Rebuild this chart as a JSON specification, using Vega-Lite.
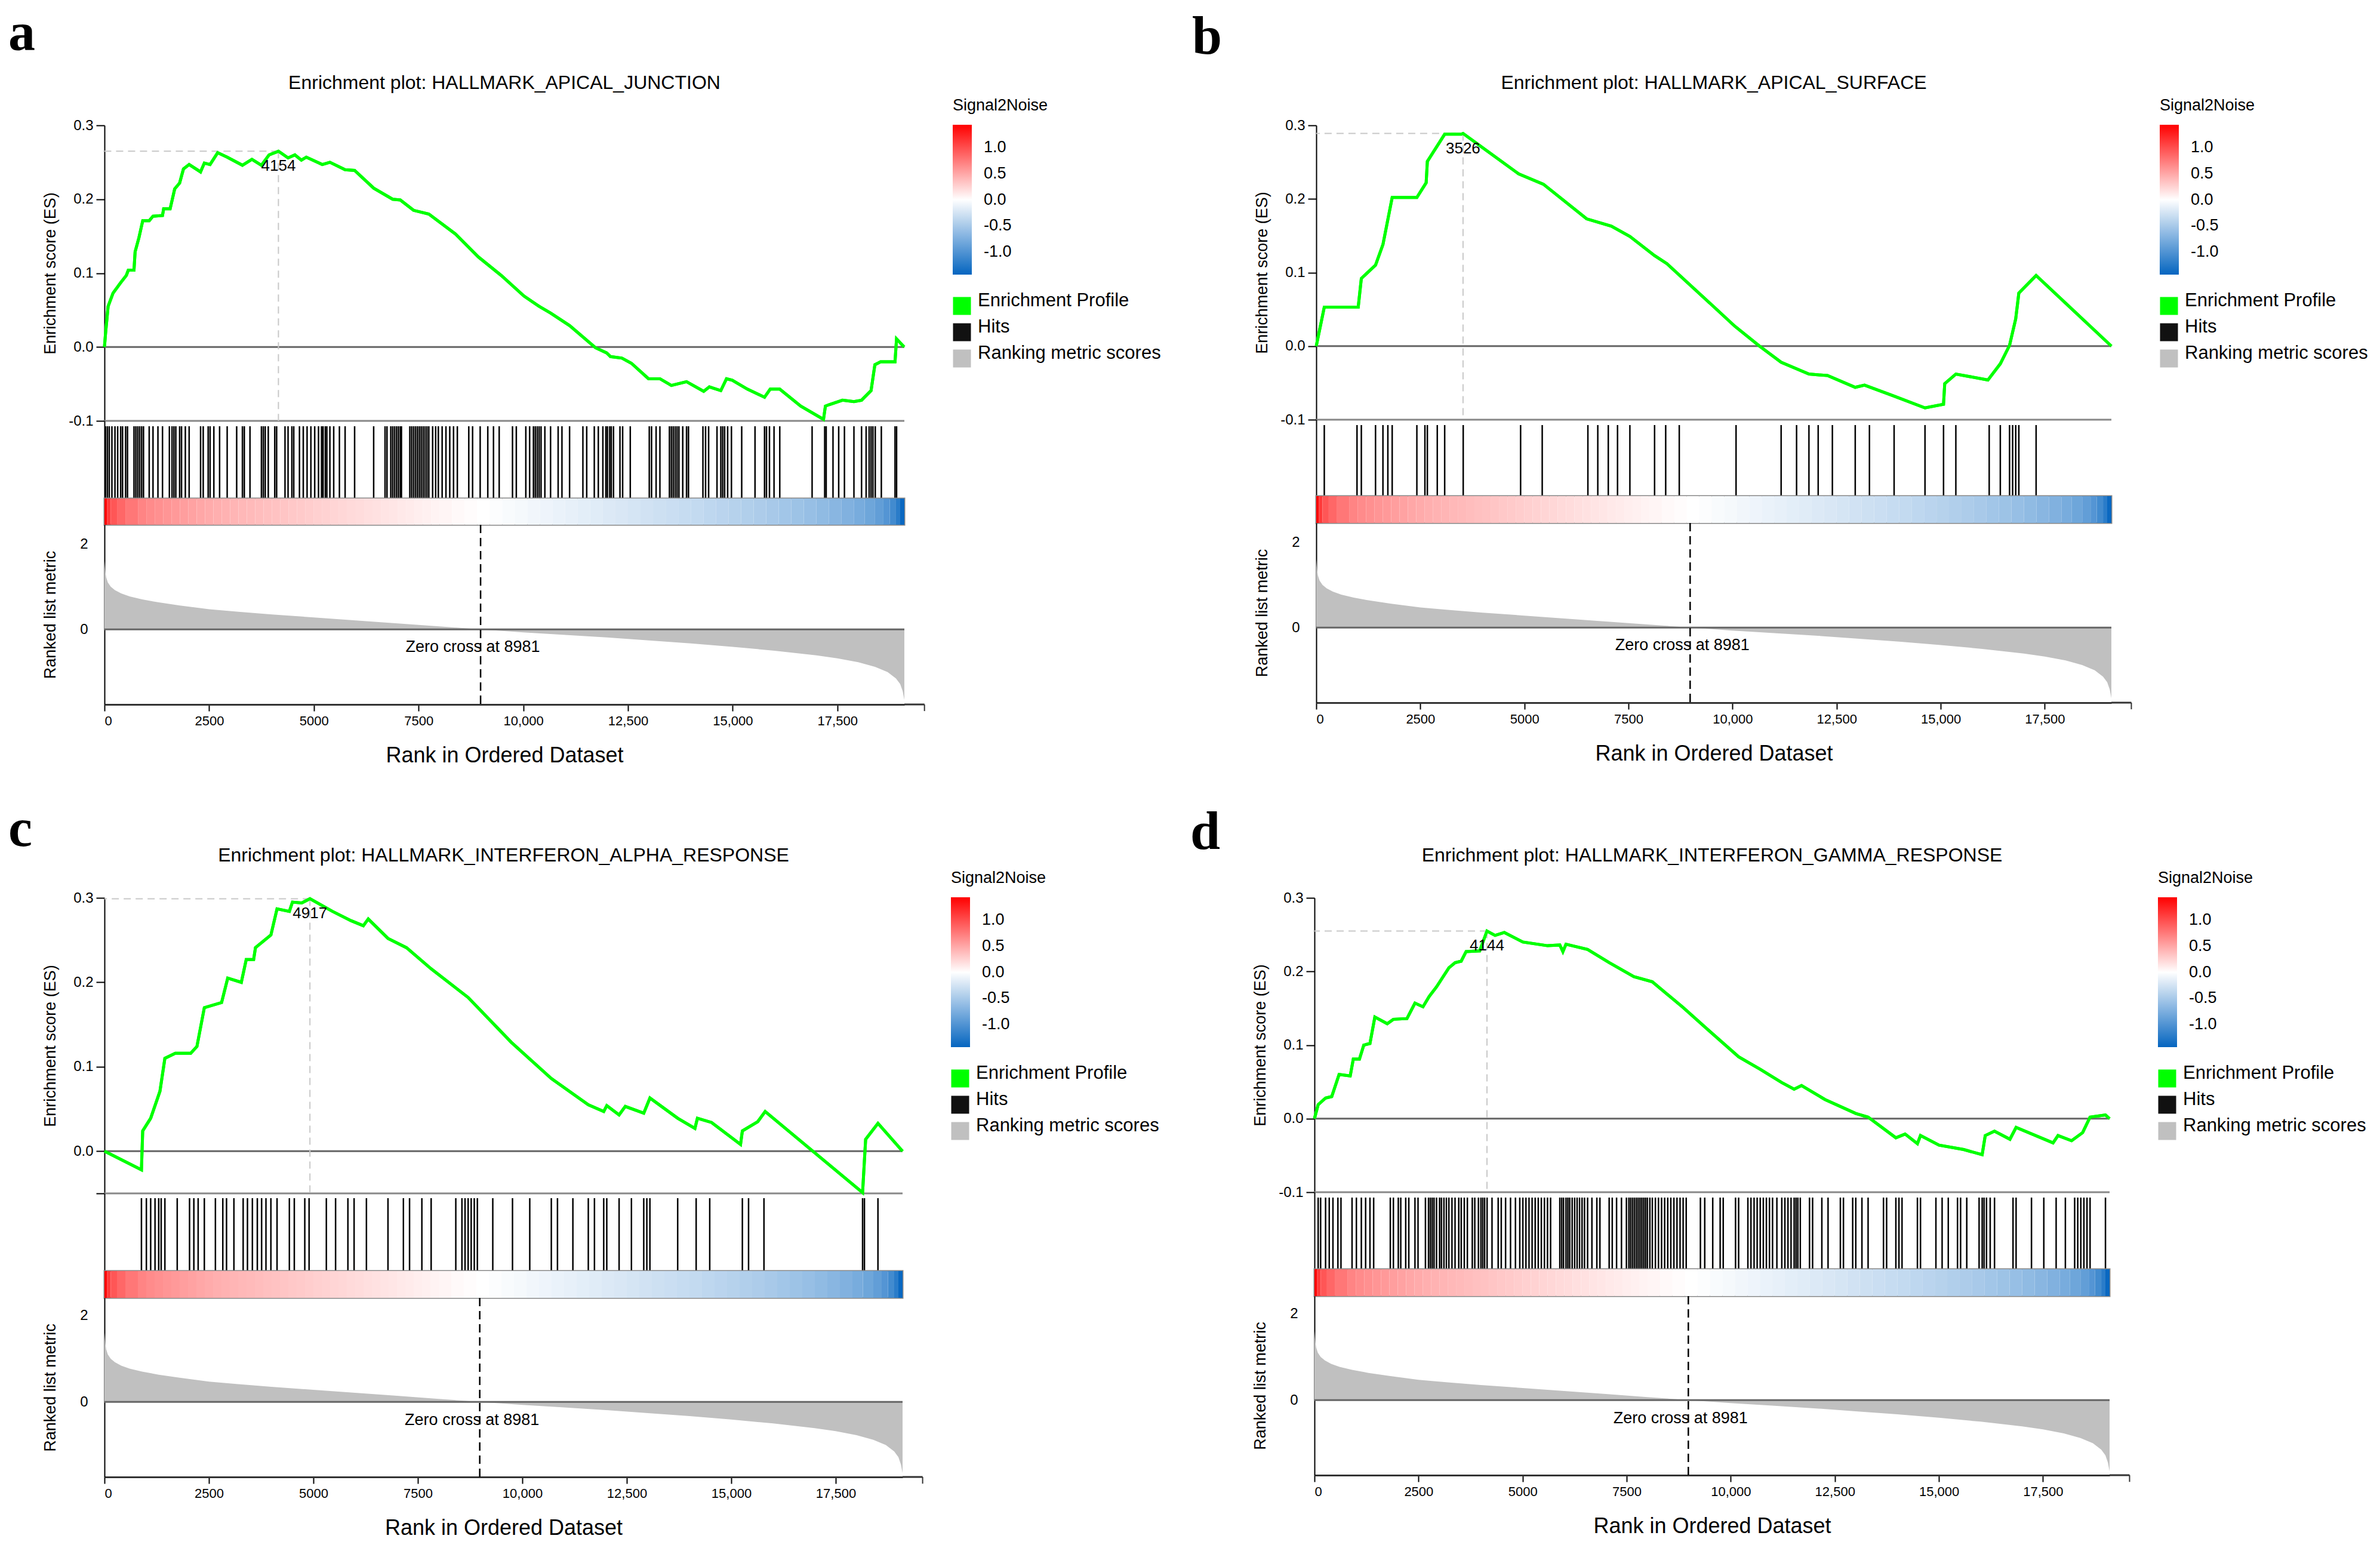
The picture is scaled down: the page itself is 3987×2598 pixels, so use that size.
{
"$schema": "https://vega.github.io/schema/vega-lite/v6.json",
"background": "white",
"padding": {"left": 14, "top": 12, "right": 5, "bottom": 5},
"spacing": 62,
"resolve": {"scale": {"color": "independent", "fill": "independent"}, "legend": {"color": "independent", "fill": "independent"}},
"datasets": {
"series": [{"series": "Enrichment Profile"}, {"series": "Hits"}, {"series": "Ranking metric scores"}],
"zc": [{"rank": 8981, "label": "Zero cross at 8981"}],
"peakA": [{"rank": 4154, "es": 0.265}],
"peakB": [{"rank": 3526, "es": 0.289}],
"peakC": [{"rank": 4917, "es": 0.299}],
"peakD": [{"rank": 4144, "es": 0.255}],
"metric": [{"rank":0,"metric":1.6},{"rank":15,"metric":1.4},{"rank":40,"metric":1.22},{"rank":80,"metric":1.1},{"rank":150,"metric":1.0},{"rank":250,"metric":0.92},{"rank":400,"metric":0.84},{"rank":600,"metric":0.77},{"rank":900,"metric":0.7},{"rank":1300,"metric":0.63},{"rank":1800,"metric":0.56},{"rank":2500,"metric":0.47},{"rank":3200,"metric":0.41},{"rank":4000,"metric":0.35},{"rank":5000,"metric":0.28},{"rank":6000,"metric":0.21},{"rank":7000,"metric":0.14},{"rank":8000,"metric":0.07},{"rank":8981,"metric":0},{"rank":10000,"metric":-0.07},{"rank":11000,"metric":-0.13},{"rank":12000,"metric":-0.19},{"rank":13000,"metric":-0.26},{"rank":14000,"metric":-0.33},{"rank":15000,"metric":-0.41},{"rank":16000,"metric":-0.5},{"rank":17000,"metric":-0.61},{"rank":17500,"metric":-0.68},{"rank":18000,"metric":-0.77},{"rank":18400,"metric":-0.88},{"rank":18700,"metric":-1.0},{"rank":18900,"metric":-1.15},{"rank":19000,"metric":-1.28},{"rank":19060,"metric":-1.45},{"rank":19100,"metric":-1.65}],
"bar": [{"r0":0,"r1":60,"s2n":1.45},{"r0":60,"r1":150,"s2n":1.1},{"r0":150,"r1":300,"s2n":0.95},{"r0":300,"r1":500,"s2n":0.85},{"r0":500,"r1":800,"s2n":0.76},{"r0":800,"r1":1000,"s2n":0.69},{"r0":1000,"r1":1200,"s2n":0.65},{"r0":1200,"r1":1400,"s2n":0.62},{"r0":1400,"r1":1600,"s2n":0.595},{"r0":1600,"r1":1800,"s2n":0.57},{"r0":1800,"r1":2000,"s2n":0.545},{"r0":2000,"r1":2200,"s2n":0.52},{"r0":2200,"r1":2400,"s2n":0.495},{"r0":2400,"r1":2600,"s2n":0.47},{"r0":2600,"r1":2800,"s2n":0.45},{"r0":2800,"r1":3000,"s2n":0.43},{"r0":3000,"r1":3200,"s2n":0.415},{"r0":3200,"r1":3400,"s2n":0.4},{"r0":3400,"r1":3600,"s2n":0.385},{"r0":3600,"r1":3800,"s2n":0.37},{"r0":3800,"r1":4000,"s2n":0.355},{"r0":4000,"r1":4200,"s2n":0.34},{"r0":4200,"r1":4400,"s2n":0.325},{"r0":4400,"r1":4600,"s2n":0.31},{"r0":4600,"r1":4800,"s2n":0.295},{"r0":4800,"r1":5000,"s2n":0.28},{"r0":5000,"r1":5200,"s2n":0.265},{"r0":5200,"r1":5400,"s2n":0.25},{"r0":5400,"r1":5600,"s2n":0.237},{"r0":5600,"r1":5800,"s2n":0.224},{"r0":5800,"r1":6000,"s2n":0.21},{"r0":6000,"r1":6200,"s2n":0.196},{"r0":6200,"r1":6400,"s2n":0.182},{"r0":6400,"r1":6600,"s2n":0.168},{"r0":6600,"r1":6800,"s2n":0.154},{"r0":6800,"r1":7000,"s2n":0.14},{"r0":7000,"r1":7200,"s2n":0.126},{"r0":7200,"r1":7400,"s2n":0.112},{"r0":7400,"r1":7600,"s2n":0.098},{"r0":7600,"r1":7800,"s2n":0.084},{"r0":7800,"r1":8000,"s2n":0.07},{"r0":8000,"r1":8300,"s2n":0.055},{"r0":8300,"r1":8600,"s2n":0.035},{"r0":8600,"r1":8900,"s2n":0.015},{"r0":8900,"r1":9200,"s2n":0.0},{"r0":9200,"r1":9500,"s2n":-0.02},{"r0":9500,"r1":9800,"s2n":-0.04},{"r0":9800,"r1":10100,"s2n":-0.06},{"r0":10100,"r1":10400,"s2n":-0.08},{"r0":10400,"r1":10700,"s2n":-0.1},{"r0":10700,"r1":11000,"s2n":-0.12},{"r0":11000,"r1":11300,"s2n":-0.14},{"r0":11300,"r1":11600,"s2n":-0.16},{"r0":11600,"r1":11900,"s2n":-0.18},{"r0":11900,"r1":12200,"s2n":-0.2},{"r0":12200,"r1":12500,"s2n":-0.22},{"r0":12500,"r1":12800,"s2n":-0.24},{"r0":12800,"r1":13100,"s2n":-0.265},{"r0":13100,"r1":13400,"s2n":-0.285},{"r0":13400,"r1":13700,"s2n":-0.305},{"r0":13700,"r1":14000,"s2n":-0.325},{"r0":14000,"r1":14300,"s2n":-0.345},{"r0":14300,"r1":14600,"s2n":-0.37},{"r0":14600,"r1":14900,"s2n":-0.395},{"r0":14900,"r1":15200,"s2n":-0.42},{"r0":15200,"r1":15500,"s2n":-0.445},{"r0":15500,"r1":15800,"s2n":-0.47},{"r0":15800,"r1":16100,"s2n":-0.5},{"r0":16100,"r1":16400,"s2n":-0.53},{"r0":16400,"r1":16700,"s2n":-0.56},{"r0":16700,"r1":17000,"s2n":-0.595},{"r0":17000,"r1":17300,"s2n":-0.635},{"r0":17300,"r1":17600,"s2n":-0.675},{"r0":17600,"r1":17900,"s2n":-0.72},{"r0":17900,"r1":18150,"s2n":-0.77},{"r0":18150,"r1":18400,"s2n":-0.83},{"r0":18400,"r1":18600,"s2n":-0.9},{"r0":18600,"r1":18750,"s2n":-0.98},{"r0":18750,"r1":18900,"s2n":-1.08},{"r0":18900,"r1":19000,"s2n":-1.22},{"r0":19000,"r1":19100,"s2n":-1.4}],
"esA": [{"rank":0,"es":0},{"rank":25,"es":0.018},{"rank":87,"es":0.055},{"rank":205,"es":0.073},{"rank":387,"es":0.087},{"rank":523,"es":0.097},{"rank":569,"es":0.104},{"rank":705,"es":0.104},{"rank":732,"es":0.129},{"rank":823,"es":0.148},{"rank":914,"es":0.171},{"rank":1068,"es":0.171},{"rank":1159,"es":0.177},{"rank":1386,"es":0.178},{"rank":1413,"es":0.187},{"rank":1568,"es":0.187},{"rank":1677,"es":0.214},{"rank":1795,"es":0.222},{"rank":1886,"es":0.241},{"rank":2022,"es":0.247},{"rank":2294,"es":0.237},{"rank":2385,"es":0.249},{"rank":2521,"es":0.247},{"rank":2703,"es":0.263},{"rank":2930,"es":0.257},{"rank":3294,"es":0.246},{"rank":3521,"es":0.254},{"rank":3748,"es":0.246},{"rank":3930,"es":0.26},{"rank":4154,"es":0.265},{"rank":4384,"es":0.256},{"rank":4547,"es":0.26},{"rank":4702,"es":0.253},{"rank":4820,"es":0.257},{"rank":5201,"es":0.247},{"rank":5383,"es":0.25},{"rank":5746,"es":0.24},{"rank":5973,"es":0.239},{"rank":6428,"es":0.215},{"rank":6882,"es":0.2},{"rank":7064,"es":0.199},{"rank":7381,"es":0.185},{"rank":7745,"es":0.18},{"rank":8381,"es":0.153},{"rank":8926,"es":0.122},{"rank":9471,"es":0.097},{"rank":10016,"es":0.069},{"rank":10379,"es":0.055},{"rank":10652,"es":0.046},{"rank":11106,"es":0.029},{"rank":11724,"es":-0.001},{"rank":11992,"es":-0.008},{"rank":12082,"es":-0.013},{"rank":12355,"es":-0.015},{"rank":12582,"es":-0.022},{"rank":12991,"es":-0.043},{"rank":13263,"es":-0.043},{"rank":13536,"es":-0.052},{"rank":13899,"es":-0.047},{"rank":14308,"es":-0.06},{"rank":14444,"es":-0.054},{"rank":14717,"es":-0.059},{"rank":14853,"es":-0.043},{"rank":14989,"es":-0.045},{"rank":15352,"es":-0.057},{"rank":15761,"es":-0.068},{"rank":15897,"es":-0.057},{"rank":16124,"es":-0.057},{"rank":16624,"es":-0.08},{"rank":17169,"es":-0.098},{"rank":17215,"es":-0.08},{"rank":17306,"es":-0.078},{"rank":17623,"es":-0.072},{"rank":17896,"es":-0.074},{"rank":18078,"es":-0.072},{"rank":18305,"es":-0.059},{"rank":18396,"es":-0.024},{"rank":18532,"es":-0.02},{"rank":18877,"es":-0.02},{"rank":18913,"es":0.011},{"rank":19095,"es":0.0}],
"esB": [{"rank":0,"es":0},{"rank":193,"es":0.053},{"rank":1008,"es":0.053},{"rank":1083,"es":0.092},{"rank":1424,"es":0.11},{"rank":1602,"es":0.138},{"rank":1824,"es":0.202},{"rank":2417,"es":0.202},{"rank":2640,"es":0.222},{"rank":2669,"es":0.251},{"rank":3085,"es":0.288},{"rank":3485,"es":0.288},{"rank":3526,"es":0.289},{"rank":4864,"es":0.234},{"rank":5457,"es":0.22},{"rank":6495,"es":0.173},{"rank":7089,"es":0.163},{"rank":7534,"es":0.149},{"rank":8127,"es":0.123},{"rank":8424,"es":0.112},{"rank":9462,"es":0.058},{"rank":10055,"es":0.027},{"rank":10648,"es":0.0},{"rank":11167,"es":-0.022},{"rank":11835,"es":-0.038},{"rank":12280,"es":-0.04},{"rank":12947,"es":-0.056},{"rank":13170,"es":-0.053},{"rank":13837,"es":-0.067},{"rank":14623,"es":-0.084},{"rank":15068,"es":-0.079},{"rank":15097,"es":-0.051},{"rank":15364,"es":-0.038},{"rank":16135,"es":-0.046},{"rank":16432,"es":-0.024},{"rank":16654,"es":0.001},{"rank":16802,"es":0.037},{"rank":16877,"es":0.072},{"rank":17292,"es":0.096},{"rank":19100,"es":0.0}],
"esC": [{"rank":0,"es":0},{"rank":885,"es":-0.022},{"rank":915,"es":0.024},{"rank":1106,"es":0.039},{"rank":1328,"es":0.071},{"rank":1446,"es":0.11},{"rank":1696,"es":0.116},{"rank":2065,"es":0.116},{"rank":2213,"es":0.124},{"rank":2390,"es":0.17},{"rank":2803,"es":0.176},{"rank":2950,"es":0.205},{"rank":3275,"es":0.2},{"rank":3393,"es":0.227},{"rank":3570,"es":0.227},{"rank":3614,"es":0.241},{"rank":3983,"es":0.256},{"rank":4130,"es":0.287},{"rank":4425,"es":0.284},{"rank":4499,"es":0.295},{"rank":4720,"es":0.294},{"rank":4917,"es":0.299},{"rank":5458,"es":0.284},{"rank":5900,"es":0.273},{"rank":6195,"es":0.267},{"rank":6313,"es":0.275},{"rank":6785,"es":0.252},{"rank":7228,"es":0.241},{"rank":7818,"es":0.216},{"rank":8703,"es":0.182},{"rank":9735,"es":0.129},{"rank":10694,"es":0.086},{"rank":11579,"es":0.055},{"rank":11948,"es":0.047},{"rank":12021,"es":0.054},{"rank":12316,"es":0.043},{"rank":12464,"es":0.053},{"rank":12906,"es":0.045},{"rank":13054,"es":0.063},{"rank":13718,"es":0.039},{"rank":14131,"es":0.027},{"rank":14190,"es":0.039},{"rank":14529,"es":0.034},{"rank":15222,"es":0.008},{"rank":15266,"es":0.024},{"rank":15635,"es":0.035},{"rank":15812,"es":0.047},{"rank":18143,"es":-0.049},{"rank":18216,"es":0.014},{"rank":18511,"es":0.033},{"rank":19100,"es":0.0}],
"esD": [{"rank":0,"es":0},{"rank":89,"es":0.019},{"rank":267,"es":0.028},{"rank":415,"es":0.03},{"rank":592,"es":0.06},{"rank":859,"es":0.058},{"rank":933,"es":0.081},{"rank":1081,"es":0.081},{"rank":1185,"es":0.1},{"rank":1333,"es":0.102},{"rank":1451,"es":0.138},{"rank":1748,"es":0.129},{"rank":1896,"es":0.135},{"rank":2222,"es":0.136},{"rank":2414,"es":0.157},{"rank":2607,"es":0.152},{"rank":2755,"es":0.166},{"rank":2932,"es":0.179},{"rank":3229,"es":0.205},{"rank":3377,"es":0.212},{"rank":3525,"es":0.214},{"rank":3643,"es":0.227},{"rank":3969,"es":0.228},{"rank":4144,"es":0.255},{"rank":4339,"es":0.249},{"rank":4561,"es":0.253},{"rank":5006,"es":0.24},{"rank":5598,"es":0.235},{"rank":5894,"es":0.236},{"rank":5968,"es":0.227},{"rank":6042,"es":0.237},{"rank":6561,"es":0.23},{"rank":7079,"es":0.212},{"rank":7672,"es":0.193},{"rank":8116,"es":0.186},{"rank":8856,"es":0.151},{"rank":9449,"es":0.121},{"rank":10189,"es":0.084},{"rank":10708,"es":0.067},{"rank":11226,"es":0.049},{"rank":11522,"es":0.04},{"rank":11700,"es":0.045},{"rank":12263,"es":0.026},{"rank":13003,"es":0.007},{"rank":13300,"es":0.002},{"rank":13966,"es":-0.026},{"rank":14188,"es":-0.021},{"rank":14484,"es":-0.034},{"rank":14558,"es":-0.023},{"rank":15003,"es":-0.036},{"rank":15595,"es":-0.042},{"rank":16039,"es":-0.049},{"rank":16113,"es":-0.023},{"rank":16335,"es":-0.017},{"rank":16706,"es":-0.028},{"rank":16854,"es":-0.012},{"rank":17742,"es":-0.033},{"rank":17861,"es":-0.023},{"rank":18187,"es":-0.03},{"rank":18453,"es":-0.019},{"rank":18631,"es":0.002},{"rank":19001,"es":0.005},{"rank":19100,"es":0.0}],
"hitsA": [{"rank":23},{"rank":69},{"rank":114},{"rank":178},{"rank":251},{"rank":315},{"rank":387},{"rank":432},{"rank":505},{"rank":550},{"rank":705},{"rank":750},{"rank":796},{"rank":841},{"rank":887},{"rank":932},{"rank":1068},{"rank":1159},{"rank":1277},{"rank":1386},{"rank":1550},{"rank":1613},{"rank":1659},{"rank":1704},{"rank":1795},{"rank":1840},{"rank":1931},{"rank":2022},{"rank":2295},{"rank":2358},{"rank":2476},{"rank":2522},{"rank":2612},{"rank":2749},{"rank":2930},{"rank":3157},{"rank":3294},{"rank":3339},{"rank":3475},{"rank":3748},{"rank":3793},{"rank":3839},{"rank":3911},{"rank":4066},{"rank":4111},{"rank":4311},{"rank":4384},{"rank":4475},{"rank":4520},{"rank":4656},{"rank":4747},{"rank":4838},{"rank":4929},{"rank":5020},{"rank":5111},{"rank":5183},{"rank":5220},{"rank":5274},{"rank":5310},{"rank":5383},{"rank":5474},{"rank":5610},{"rank":5746},{"rank":5973},{"rank":6428},{"rank":6700},{"rank":6746},{"rank":6837},{"rank":6882},{"rank":6927},{"rank":6973},{"rank":7018},{"rank":7064},{"rank":7091},{"rank":7291},{"rank":7336},{"rank":7382},{"rank":7427},{"rank":7472},{"rank":7518},{"rank":7563},{"rank":7609},{"rank":7654},{"rank":7700},{"rank":7745},{"rank":7836},{"rank":7908},{"rank":7972},{"rank":8063},{"rank":8154},{"rank":8245},{"rank":8335},{"rank":8426},{"rank":8699},{"rank":8790},{"rank":8971},{"rank":9153},{"rank":9289},{"rank":9425},{"rank":9743},{"rank":9834},{"rank":10061},{"rank":10152},{"rank":10243},{"rank":10288},{"rank":10334},{"rank":10379},{"rank":10425},{"rank":10516},{"rank":10652},{"rank":10833},{"rank":10924},{"rank":11106},{"rank":11424},{"rank":11515},{"rank":11696},{"rank":11792},{"rank":11901},{"rank":11973},{"rank":12010},{"rank":12064},{"rank":12101},{"rank":12155},{"rank":12309},{"rank":12373},{"rank":12555},{"rank":13009},{"rank":13063},{"rank":13172},{"rank":13263},{"rank":13490},{"rank":13536},{"rank":13581},{"rank":13627},{"rank":13672},{"rank":13717},{"rank":13808},{"rank":13899},{"rank":13945},{"rank":14290},{"rank":14353},{"rank":14426},{"rank":14626},{"rank":14717},{"rank":14762},{"rank":14808},{"rank":14880},{"rank":14971},{"rank":15216},{"rank":15534},{"rank":15761},{"rank":15807},{"rank":15879},{"rank":15988},{"rank":16125},{"rank":16897},{"rank":17197},{"rank":17233},{"rank":17396},{"rank":17532},{"rank":17669},{"rank":17896},{"rank":18078},{"rank":18187},{"rank":18259},{"rank":18305},{"rank":18350},{"rank":18405},{"rank":18550},{"rank":18877},{"rank":18914}],
"hitsB": [{"rank":193},{"rank":979},{"rank":1083},{"rank":1424},{"rank":1602},{"rank":1720},{"rank":1824},{"rank":2417},{"rank":2610},{"rank":2669},{"rank":2907},{"rank":3085},{"rank":3530},{"rank":4909},{"rank":5428},{"rank":6525},{"rank":6763},{"rank":7015},{"rank":7237},{"rank":7534},{"rank":8127},{"rank":8394},{"rank":8720},{"rank":10084},{"rank":11167},{"rank":11538},{"rank":11835},{"rank":12057},{"rank":12398},{"rank":12947},{"rank":13288},{"rank":13881},{"rank":14623},{"rank":15068},{"rank":15364},{"rank":16165},{"rank":16432},{"rank":16654},{"rank":16728},{"rank":16802},{"rank":16877},{"rank":17292}],
"hitsC": [{"rank":885},{"rank":1003},{"rank":1106},{"rank":1210},{"rank":1298},{"rank":1357},{"rank":1446},{"rank":1741},{"rank":2036},{"rank":2139},{"rank":2242},{"rank":2390},{"rank":2655},{"rank":2832},{"rank":2921},{"rank":3098},{"rank":3319},{"rank":3422},{"rank":3540},{"rank":3658},{"rank":3761},{"rank":3865},{"rank":3983},{"rank":4130},{"rank":4425},{"rank":4543},{"rank":4794},{"rank":4897},{"rank":5310},{"rank":5531},{"rank":5826},{"rank":5974},{"rank":6269},{"rank":6785},{"rank":7154},{"rank":7301},{"rank":7596},{"rank":7818},{"rank":8408},{"rank":8555},{"rank":8629},{"rank":8703},{"rank":8776},{"rank":8850},{"rank":8924},{"rank":9293},{"rank":9765},{"rank":10178},{"rank":10694},{"rank":10841},{"rank":11210},{"rank":11579},{"rank":11726},{"rank":11948},{"rank":12021},{"rank":12316},{"rank":12611},{"rank":12906},{"rank":12980},{"rank":13054},{"rank":13718},{"rank":14160},{"rank":14485},{"rank":15266},{"rank":15414},{"rank":15783},{"rank":18143},{"rank":18187},{"rank":18511}],
"hitsD": [{"rank":89},{"rank":148},{"rank":267},{"rank":355},{"rank":444},{"rank":563},{"rank":637},{"rank":903},{"rank":1007},{"rank":1126},{"rank":1229},{"rank":1333},{"rank":1422},{"rank":1822},{"rank":1896},{"rank":2014},{"rank":2073},{"rank":2192},{"rank":2266},{"rank":2414},{"rank":2488},{"rank":2666},{"rank":2740},{"rank":2784},{"rank":2829},{"rank":2873},{"rank":2932},{"rank":3006},{"rank":3051},{"rank":3110},{"rank":3169},{"rank":3229},{"rank":3303},{"rank":3377},{"rank":3466},{"rank":3525},{"rank":3599},{"rank":3673},{"rank":3791},{"rank":3851},{"rank":3939},{"rank":3999},{"rank":4043},{"rank":4088},{"rank":4147},{"rank":4265},{"rank":4413},{"rank":4487},{"rank":4591},{"rank":4710},{"rank":4828},{"rank":4932},{"rank":5006},{"rank":5080},{"rank":5154},{"rank":5228},{"rank":5302},{"rank":5376},{"rank":5450},{"rank":5524},{"rank":5598},{"rank":5672},{"rank":5894},{"rank":5939},{"rank":5983},{"rank":6042},{"rank":6087},{"rank":6131},{"rank":6190},{"rank":6250},{"rank":6309},{"rank":6368},{"rank":6428},{"rank":6487},{"rank":6561},{"rank":6665},{"rank":6783},{"rank":6857},{"rank":7079},{"rank":7153},{"rank":7257},{"rank":7375},{"rank":7494},{"rank":7553},{"rank":7597},{"rank":7642},{"rank":7686},{"rank":7731},{"rank":7775},{"rank":7820},{"rank":7864},{"rank":7909},{"rank":7953},{"rank":7997},{"rank":8057},{"rank":8116},{"rank":8190},{"rank":8264},{"rank":8338},{"rank":8412},{"rank":8486},{"rank":8560},{"rank":8634},{"rank":8708},{"rank":8782},{"rank":8856},{"rank":8930},{"rank":9271},{"rank":9375},{"rank":9567},{"rank":9745},{"rank":9819},{"rank":10115},{"rank":10189},{"rank":10411},{"rank":10485},{"rank":10560},{"rank":10634},{"rank":10708},{"rank":10782},{"rank":10856},{"rank":10930},{"rank":11004},{"rank":11108},{"rank":11226},{"rank":11300},{"rank":11374},{"rank":11448},{"rank":11522},{"rank":11567},{"rank":11611},{"rank":11670},{"rank":11892},{"rank":11966},{"rank":12188},{"rank":12337},{"rank":12633},{"rank":12707},{"rank":12929},{"rank":13003},{"rank":13151},{"rank":13299},{"rank":13669},{"rank":13744},{"rank":13966},{"rank":14040},{"rank":14114},{"rank":14484},{"rank":14558},{"rank":14928},{"rank":15077},{"rank":15225},{"rank":15447},{"rank":15521},{"rank":15669},{"rank":15965},{"rank":16039},{"rank":16084},{"rank":16143},{"rank":16232},{"rank":16336},{"rank":16780},{"rank":16854},{"rank":17224},{"rank":17520},{"rank":17816},{"rank":18038},{"rank":18261},{"rank":18335},{"rank":18409},{"rank":18483},{"rank":18557},{"rank":18631},{"rank":19001}]
},
"vconcat": [
{"spacing": 52, "resolve": {"scale": {"color": "independent", "fill": "independent"}, "legend": {"color": "independent", "fill": "independent"}},
 "hconcat": [
  {"title": {"text": "a", "font": "Liberation Serif", "fontSize": 90, "fontWeight": "bold", "anchor": "start", "frame": "group", "dx": -161, "offset": 20},
   "bounds": "flush", "spacing": 0,
   "vconcat": [
    {"width": 1340, "height": 495,
     "title": {"text": "Enrichment plot: HALLMARK_APICAL_JUNCTION", "fontSize": 32, "anchor": "middle", "offset": 42},
     "data": {"name": "peakA"},
     "encoding": {
      "x": {"field": "rank", "type": "quantitative", "scale": {"domain": [0, 19100], "nice": false, "zero": false}, "axis": null},
      "y": {"field": "es", "type": "quantitative", "scale": {"domain": [-0.1, 0.3], "nice": false, "zero": false},
            "axis": {"title": "Enrichment score (ES)", "titleFontSize": 27, "titleX": -91, "titleBaseline": "middle", "values": [-0.1, 0, 0.1, 0.2, 0.3], "labelExpr": "datum.value > -0.06 && datum.value < -0.04 ? '' : replace(format(datum.value, '.1f'), '\u2212', '-')", "labelFontSize": 24, "tickSize": 14, "tickWidth": 2, "labelPadding": 5, "domainWidth": 2}}
     },
     "layer": [
      {"mark": {"type": "line", "color": "#00ff00", "strokeWidth": 5}, "data": {"name": "esA"}},
      {"mark": {"type": "rule", "color": "#666666", "strokeWidth": 3}, "encoding": {"x": {"datum": 0}, "x2": {"datum": 19100}, "y": {"datum": 0}}},
      {"mark": {"type": "rule", "color": "#888888", "strokeWidth": 3}, "encoding": {"x": {"datum": 0}, "x2": {"datum": 19100}, "y": {"datum": -0.1}}},
      {"mark": {"type": "rule", "color": "#c8c8c8", "strokeWidth": 2, "strokeDash": [12, 8]}, "encoding": {"x2": {"datum": 0}}},
      {"mark": {"type": "rule", "color": "#c8c8c8", "strokeWidth": 2, "strokeDash": [12, 8]}, "encoding": {"y2": {"datum": -0.1}}},
      {"data": {"name": "esA"}, "mark": {"type": "line", "color": "#00ff00", "strokeWidth": 5}},
      {"mark": {"type": "text", "fontSize": 26, "dy": 25, "baseline": "middle", "align": "center"}, "encoding": {"text": {"field": "rank", "type": "quantitative", "format": "d"}}}
     ]},
    {"width": 1340, "height": 130, "data": {"name": "hitsA"},
     "mark": {"type": "rule", "color": "#000000", "strokeWidth": 2.5},
     "encoding": {
      "x": {"field": "rank", "type": "quantitative", "scale": {"domain": [0, 19100], "nice": false, "zero": false}, "axis": null},
      "y": {"datum": 0, "type": "quantitative", "scale": {"domain": [0, 130], "nice": false}, "axis": {"title": null, "labels": false, "ticks": false, "domainWidth": 2}},
      "y2": {"datum": 121}
     }},
    {"width": 1340, "height": 44, "data": {"name": "bar"}, "view": {"stroke": "#888888", "strokeWidth": 3},
     "mark": {"type": "rect"},
     "encoding": {
      "x": {"field": "r0", "type": "quantitative", "scale": {"domain": [0, 19100], "nice": false, "zero": false}, "axis": null},
      "x2": {"field": "r1"},
      "color": {"field": "s2n", "type": "quantitative", "scale": {"domain": [-1.43, 0, 1.43], "range": ["#0565c0", "#ffffff", "#ff0000"], "interpolate": "rgb"},
                "legend": {"orient": "none", "legendX": 1421, "legendY": -46, "title": "Signal2Noise", "direction": "vertical", "gradientLength": 251, "gradientThickness": 32, "values": [-1, -0.5, 0, 0.5, 1], "labelExpr": "replace(format(datum.value, '.1f'), '\u2212', '-')", "labelFontSize": 27, "titleFontSize": 27, "labelOffset": 20, "titlePadding": 18, "gradientStrokeWidth": 0}}
     }},
    {"width": 1340, "height": 301, "data": {"name": "zc"},
     "layer": [
      {"data": {"name": "metric"}, "mark": {"type": "area", "color": "#c0c0c0"},
       "encoding": {
        "x": {"field": "rank", "type": "quantitative", "scale": {"domain": [0, 19100], "nice": false, "zero": false},
              "axis": {"title": "Rank in Ordered Dataset", "titleFontSize": 36, "titlePadding": 30, "values": [0, 2500, 5000, 7500, 10000, 12500, 15000, 17500], "labelExpr": "datum.value >= 10000 ? format(datum.value, ',') : format(datum.value, 'd')", "labelFontSize": 22, "tickSize": 11, "tickWidth": 2, "domainWidth": 3, "domainColor": "#333333", "labelPadding": 6}},
        "y": {"field": "metric", "type": "quantitative", "scale": {"domain": [-1.76, 2.45], "nice": false},
              "axis": {"title": "Ranked list metric", "titleFontSize": 27, "titleX": -91, "titleBaseline": "middle", "values": [0, 2], "format": "d", "labelFontSize": 24, "ticks": false, "labelPadding": 28, "domainWidth": 2}},
        "y2": {"datum": 0}
       }},
      {"mark": {"type": "rule", "color": "#666666", "strokeWidth": 3}, "encoding": {"x": {"datum": 0}, "x2": {"datum": 19100}, "y": {"datum": 0}}},
      {"mark": {"type": "rule", "color": "#000000", "strokeWidth": 2.5, "strokeDash": [14, 8]}, "encoding": {"x": {"field": "rank", "type": "quantitative"}}},
      {"mark": {"type": "text", "fontSize": 27, "dx": -13, "align": "center", "baseline": "middle"}, "encoding": {"x": {"field": "rank", "type": "quantitative"}, "y": {"datum": -0.42}, "text": {"field": "label"}}},
      {"mark": {"type": "rule", "color": "#333333", "strokeWidth": 3}, "encoding": {"x": {"datum": 19100}, "x2": {"datum": 19580}, "y": {"datum": -1.76}}},
      {"mark": {"type": "rule", "color": "#333333", "strokeWidth": 2}, "encoding": {"x": {"datum": 19580}, "y": {"datum": -1.76}, "y2": {"datum": -1.915}}},
      {"data": {"name": "series"}, "mark": {"type": "point", "shape": "square", "filled": true, "clip": true}, "encoding": {"x": {"datum": -50000}, "y": {"datum": 0}, "fill": {"field": "series", "type": "nominal", "scale": {"domain": ["Enrichment Profile", "Hits", "Ranking metric scores"], "range": ["#00ff00", "#111111", "#c0c0c0"]}, "legend": {"orient": "none", "legendX": 1421, "legendY": 287, "title": null, "symbolType": "square", "symbolSize": 900, "symbolStrokeWidth": 0, "symbolOpacity": 1, "labelFontSize": 31, "labelOffset": 11, "labelBaseline": "alphabetic", "rowPadding": 3, "labelLimit": 0}}}}
     ]}
   ]},
  {"title": {"text": "b", "font": "Liberation Serif", "fontSize": 90, "fontWeight": "bold", "anchor": "start", "frame": "group", "dx": -208, "offset": 14},
   "bounds": "flush", "spacing": 0,
   "vconcat": [
    {"width": 1332, "height": 493,
     "title": {"text": "Enrichment plot: HALLMARK_APICAL_SURFACE", "fontSize": 32, "anchor": "middle", "offset": 42},
     "data": {"name": "peakB"},
     "encoding": {
      "x": {"field": "rank", "type": "quantitative", "scale": {"domain": [0, 19100], "nice": false, "zero": false}, "axis": null},
      "y": {"field": "es", "type": "quantitative", "scale": {"domain": [-0.1, 0.3], "nice": false, "zero": false},
            "axis": {"title": "Enrichment score (ES)", "titleFontSize": 27, "titleX": -91, "titleBaseline": "middle", "values": [-0.1, 0, 0.1, 0.2, 0.3], "labelExpr": "datum.value > -0.06 && datum.value < -0.04 ? '' : replace(format(datum.value, '.1f'), '\u2212', '-')", "labelFontSize": 24, "tickSize": 14, "tickWidth": 2, "labelPadding": 5, "domainWidth": 2}}
     },
     "layer": [
      {"mark": {"type": "line", "color": "#00ff00", "strokeWidth": 5}, "data": {"name": "esB"}},
      {"mark": {"type": "rule", "color": "#666666", "strokeWidth": 3}, "encoding": {"x": {"datum": 0}, "x2": {"datum": 19100}, "y": {"datum": 0}}},
      {"mark": {"type": "rule", "color": "#888888", "strokeWidth": 3}, "encoding": {"x": {"datum": 0}, "x2": {"datum": 19100}, "y": {"datum": -0.1}}},
      {"mark": {"type": "rule", "color": "#c8c8c8", "strokeWidth": 2, "strokeDash": [12, 8]}, "encoding": {"x2": {"datum": 0}}},
      {"mark": {"type": "rule", "color": "#c8c8c8", "strokeWidth": 2, "strokeDash": [12, 8]}, "encoding": {"y2": {"datum": -0.1}}},
      {"data": {"name": "esB"}, "mark": {"type": "line", "color": "#00ff00", "strokeWidth": 5}},
      {"mark": {"type": "text", "fontSize": 26, "dy": 25, "baseline": "middle", "align": "center"}, "encoding": {"text": {"field": "rank", "type": "quantitative", "format": "d"}}}
     ]},
    {"width": 1332, "height": 128, "data": {"name": "hitsB"},
     "mark": {"type": "rule", "color": "#000000", "strokeWidth": 2.5},
     "encoding": {
      "x": {"field": "rank", "type": "quantitative", "scale": {"domain": [0, 19100], "nice": false, "zero": false}, "axis": null},
      "y": {"datum": 0, "type": "quantitative", "scale": {"domain": [0, 128], "nice": false}, "axis": {"title": null, "labels": false, "ticks": false, "domainWidth": 2}},
      "y2": {"datum": 119}
     }},
    {"width": 1332, "height": 45, "data": {"name": "bar"}, "view": {"stroke": "#888888", "strokeWidth": 3},
     "mark": {"type": "rect"},
     "encoding": {
      "x": {"field": "r0", "type": "quantitative", "scale": {"domain": [0, 19100], "nice": false, "zero": false}, "axis": null},
      "x2": {"field": "r1"},
      "color": {"field": "s2n", "type": "quantitative", "scale": {"domain": [-1.43, 0, 1.43], "range": ["#0565c0", "#ffffff", "#ff0000"], "interpolate": "rgb"},
                "legend": {"orient": "none", "legendX": 1413, "legendY": -46, "title": "Signal2Noise", "direction": "vertical", "gradientLength": 251, "gradientThickness": 32, "values": [-1, -0.5, 0, 0.5, 1], "labelExpr": "replace(format(datum.value, '.1f'), '\u2212', '-')", "labelFontSize": 27, "titleFontSize": 27, "labelOffset": 20, "titlePadding": 18, "gradientStrokeWidth": 0}}
     }},
    {"width": 1332, "height": 301, "data": {"name": "zc"},
     "layer": [
      {"data": {"name": "metric"}, "mark": {"type": "area", "color": "#c0c0c0"},
       "encoding": {
        "x": {"field": "rank", "type": "quantitative", "scale": {"domain": [0, 19100], "nice": false, "zero": false},
              "axis": {"title": "Rank in Ordered Dataset", "titleFontSize": 36, "titlePadding": 30, "values": [0, 2500, 5000, 7500, 10000, 12500, 15000, 17500], "labelExpr": "datum.value >= 10000 ? format(datum.value, ',') : format(datum.value, 'd')", "labelFontSize": 22, "tickSize": 11, "tickWidth": 2, "domainWidth": 3, "domainColor": "#333333", "labelPadding": 6}},
        "y": {"field": "metric", "type": "quantitative", "scale": {"domain": [-1.76, 2.45], "nice": false},
              "axis": {"title": "Ranked list metric", "titleFontSize": 27, "titleX": -91, "titleBaseline": "middle", "values": [0, 2], "format": "d", "labelFontSize": 24, "ticks": false, "labelPadding": 28, "domainWidth": 2}},
        "y2": {"datum": 0}
       }},
      {"mark": {"type": "rule", "color": "#666666", "strokeWidth": 3}, "encoding": {"x": {"datum": 0}, "x2": {"datum": 19100}, "y": {"datum": 0}}},
      {"mark": {"type": "rule", "color": "#000000", "strokeWidth": 2.5, "strokeDash": [14, 8]}, "encoding": {"x": {"field": "rank", "type": "quantitative"}}},
      {"mark": {"type": "text", "fontSize": 27, "dx": -13, "align": "center", "baseline": "middle"}, "encoding": {"x": {"field": "rank", "type": "quantitative"}, "y": {"datum": -0.42}, "text": {"field": "label"}}},
      {"mark": {"type": "rule", "color": "#333333", "strokeWidth": 3}, "encoding": {"x": {"datum": 19100}, "x2": {"datum": 19580}, "y": {"datum": -1.76}}},
      {"mark": {"type": "rule", "color": "#333333", "strokeWidth": 2}, "encoding": {"x": {"datum": 19580}, "y": {"datum": -1.76}, "y2": {"datum": -1.915}}},
      {"data": {"name": "series"}, "mark": {"type": "point", "shape": "square", "filled": true, "clip": true}, "encoding": {"x": {"datum": -50000}, "y": {"datum": 0}, "fill": {"field": "series", "type": "nominal", "scale": {"domain": ["Enrichment Profile", "Hits", "Ranking metric scores"], "range": ["#00ff00", "#111111", "#c0c0c0"]}, "legend": {"orient": "none", "legendX": 1413, "legendY": 287, "title": null, "symbolType": "square", "symbolSize": 900, "symbolStrokeWidth": 0, "symbolOpacity": 1, "labelFontSize": 31, "labelOffset": 11, "labelBaseline": "alphabetic", "rowPadding": 3, "labelLimit": 0}}}}
     ]}
   ]}
 ]},
{"spacing": 52, "resolve": {"scale": {"color": "independent", "fill": "independent"}, "legend": {"color": "independent", "fill": "independent"}},
 "hconcat": [
  {"title": {"text": "c", "font": "Liberation Serif", "fontSize": 90, "fontWeight": "bold", "anchor": "start", "frame": "group", "dx": -161, "offset": -19},
   "bounds": "flush", "spacing": 0,
   "vconcat": [
    {"width": 1337, "height": 495,
     "title": {"text": "Enrichment plot: HALLMARK_INTERFERON_ALPHA_RESPONSE", "fontSize": 32, "anchor": "middle", "offset": 42},
     "data": {"name": "peakC"},
     "encoding": {
      "x": {"field": "rank", "type": "quantitative", "scale": {"domain": [0, 19100], "nice": false, "zero": false}, "axis": null},
      "y": {"field": "es", "type": "quantitative", "scale": {"domain": [-0.05, 0.3], "nice": false, "zero": false},
            "axis": {"title": "Enrichment score (ES)", "titleFontSize": 27, "titleX": -91, "titleBaseline": "middle", "values": [-0.05, 0, 0.1, 0.2, 0.3], "labelExpr": "datum.value > -0.06 && datum.value < -0.04 ? '' : replace(format(datum.value, '.1f'), '\u2212', '-')", "labelFontSize": 24, "tickSize": 14, "tickWidth": 2, "labelPadding": 5, "domainWidth": 2}}
     },
     "layer": [
      {"mark": {"type": "line", "color": "#00ff00", "strokeWidth": 5}, "data": {"name": "esC"}},
      {"mark": {"type": "rule", "color": "#666666", "strokeWidth": 3}, "encoding": {"x": {"datum": 0}, "x2": {"datum": 19100}, "y": {"datum": 0}}},
      {"mark": {"type": "rule", "color": "#888888", "strokeWidth": 3}, "encoding": {"x": {"datum": 0}, "x2": {"datum": 19100}, "y": {"datum": -0.05}}},
      {"mark": {"type": "rule", "color": "#c8c8c8", "strokeWidth": 2, "strokeDash": [12, 8]}, "encoding": {"x2": {"datum": 0}}},
      {"mark": {"type": "rule", "color": "#c8c8c8", "strokeWidth": 2, "strokeDash": [12, 8]}, "encoding": {"y2": {"datum": -0.05}}},
      {"data": {"name": "esC"}, "mark": {"type": "line", "color": "#00ff00", "strokeWidth": 5}},
      {"mark": {"type": "text", "fontSize": 26, "dy": 25, "baseline": "middle", "align": "center"}, "encoding": {"text": {"field": "rank", "type": "quantitative", "format": "d"}}}
     ]},
    {"width": 1337, "height": 130, "data": {"name": "hitsC"},
     "mark": {"type": "rule", "color": "#000000", "strokeWidth": 2.5},
     "encoding": {
      "x": {"field": "rank", "type": "quantitative", "scale": {"domain": [0, 19100], "nice": false, "zero": false}, "axis": null},
      "y": {"datum": 0, "type": "quantitative", "scale": {"domain": [0, 130], "nice": false}, "axis": {"title": null, "labels": false, "ticks": false, "domainWidth": 2}},
      "y2": {"datum": 122}
     }},
    {"width": 1337, "height": 45, "data": {"name": "bar"}, "view": {"stroke": "#888888", "strokeWidth": 3},
     "mark": {"type": "rect"},
     "encoding": {
      "x": {"field": "r0", "type": "quantitative", "scale": {"domain": [0, 19100], "nice": false, "zero": false}, "axis": null},
      "x2": {"field": "r1"},
      "color": {"field": "s2n", "type": "quantitative", "scale": {"domain": [-1.43, 0, 1.43], "range": ["#0565c0", "#ffffff", "#ff0000"], "interpolate": "rgb"},
                "legend": {"orient": "none", "legendX": 1418, "legendY": -46, "title": "Signal2Noise", "direction": "vertical", "gradientLength": 251, "gradientThickness": 32, "values": [-1, -0.5, 0, 0.5, 1], "labelExpr": "replace(format(datum.value, '.1f'), '\u2212', '-')", "labelFontSize": 27, "titleFontSize": 27, "labelOffset": 20, "titlePadding": 18, "gradientStrokeWidth": 0}}
     }},
    {"width": 1337, "height": 300, "data": {"name": "zc"},
     "layer": [
      {"data": {"name": "metric"}, "mark": {"type": "area", "color": "#c0c0c0"},
       "encoding": {
        "x": {"field": "rank", "type": "quantitative", "scale": {"domain": [0, 19100], "nice": false, "zero": false},
              "axis": {"title": "Rank in Ordered Dataset", "titleFontSize": 36, "titlePadding": 30, "values": [0, 2500, 5000, 7500, 10000, 12500, 15000, 17500], "labelExpr": "datum.value >= 10000 ? format(datum.value, ',') : format(datum.value, 'd')", "labelFontSize": 22, "tickSize": 11, "tickWidth": 2, "domainWidth": 3, "domainColor": "#333333", "labelPadding": 6}},
        "y": {"field": "metric", "type": "quantitative", "scale": {"domain": [-1.74, 2.41], "nice": false},
              "axis": {"title": "Ranked list metric", "titleFontSize": 27, "titleX": -91, "titleBaseline": "middle", "values": [0, 2], "format": "d", "labelFontSize": 24, "ticks": false, "labelPadding": 28, "domainWidth": 2}},
        "y2": {"datum": 0}
       }},
      {"mark": {"type": "rule", "color": "#666666", "strokeWidth": 3}, "encoding": {"x": {"datum": 0}, "x2": {"datum": 19100}, "y": {"datum": 0}}},
      {"mark": {"type": "rule", "color": "#000000", "strokeWidth": 2.5, "strokeDash": [14, 8]}, "encoding": {"x": {"field": "rank", "type": "quantitative"}}},
      {"mark": {"type": "text", "fontSize": 27, "dx": -13, "align": "center", "baseline": "middle"}, "encoding": {"x": {"field": "rank", "type": "quantitative"}, "y": {"datum": -0.42}, "text": {"field": "label"}}},
      {"mark": {"type": "rule", "color": "#333333", "strokeWidth": 3}, "encoding": {"x": {"datum": 19100}, "x2": {"datum": 19580}, "y": {"datum": -1.74}}},
      {"mark": {"type": "rule", "color": "#333333", "strokeWidth": 2}, "encoding": {"x": {"datum": 19580}, "y": {"datum": -1.74}, "y2": {"datum": -1.895}}},
      {"data": {"name": "series"}, "mark": {"type": "point", "shape": "square", "filled": true, "clip": true}, "encoding": {"x": {"datum": -50000}, "y": {"datum": 0}, "fill": {"field": "series", "type": "nominal", "scale": {"domain": ["Enrichment Profile", "Hits", "Ranking metric scores"], "range": ["#00ff00", "#111111", "#c0c0c0"]}, "legend": {"orient": "none", "legendX": 1418, "legendY": 287, "title": null, "symbolType": "square", "symbolSize": 900, "symbolStrokeWidth": 0, "symbolOpacity": 1, "labelFontSize": 31, "labelOffset": 11, "labelBaseline": "alphabetic", "rowPadding": 3, "labelLimit": 0}}}}
     ]}
   ]},
  {"title": {"text": "d", "font": "Liberation Serif", "fontSize": 90, "fontWeight": "bold", "anchor": "start", "frame": "group", "dx": -208, "offset": -24},
   "bounds": "flush", "spacing": 0,
   "vconcat": [
    {"width": 1332, "height": 493,
     "title": {"text": "Enrichment plot: HALLMARK_INTERFERON_GAMMA_RESPONSE", "fontSize": 32, "anchor": "middle", "offset": 42},
     "data": {"name": "peakD"},
     "encoding": {
      "x": {"field": "rank", "type": "quantitative", "scale": {"domain": [0, 19100], "nice": false, "zero": false}, "axis": null},
      "y": {"field": "es", "type": "quantitative", "scale": {"domain": [-0.1, 0.3], "nice": false, "zero": false},
            "axis": {"title": "Enrichment score (ES)", "titleFontSize": 27, "titleX": -91, "titleBaseline": "middle", "values": [-0.1, 0, 0.1, 0.2, 0.3], "labelExpr": "datum.value > -0.06 && datum.value < -0.04 ? '' : replace(format(datum.value, '.1f'), '\u2212', '-')", "labelFontSize": 24, "tickSize": 14, "tickWidth": 2, "labelPadding": 5, "domainWidth": 2}}
     },
     "layer": [
      {"mark": {"type": "line", "color": "#00ff00", "strokeWidth": 5}, "data": {"name": "esD"}},
      {"mark": {"type": "rule", "color": "#666666", "strokeWidth": 3}, "encoding": {"x": {"datum": 0}, "x2": {"datum": 19100}, "y": {"datum": 0}}},
      {"mark": {"type": "rule", "color": "#888888", "strokeWidth": 3}, "encoding": {"x": {"datum": 0}, "x2": {"datum": 19100}, "y": {"datum": -0.1}}},
      {"mark": {"type": "rule", "color": "#c8c8c8", "strokeWidth": 2, "strokeDash": [12, 8]}, "encoding": {"x2": {"datum": 0}}},
      {"mark": {"type": "rule", "color": "#c8c8c8", "strokeWidth": 2, "strokeDash": [12, 8]}, "encoding": {"y2": {"datum": -0.1}}},
      {"data": {"name": "esD"}, "mark": {"type": "line", "color": "#00ff00", "strokeWidth": 5}},
      {"mark": {"type": "text", "fontSize": 26, "dy": 25, "baseline": "middle", "align": "center"}, "encoding": {"text": {"field": "rank", "type": "quantitative", "format": "d"}}}
     ]},
    {"width": 1332, "height": 129, "data": {"name": "hitsD"},
     "mark": {"type": "rule", "color": "#000000", "strokeWidth": 2.5},
     "encoding": {
      "x": {"field": "rank", "type": "quantitative", "scale": {"domain": [0, 19100], "nice": false, "zero": false}, "axis": null},
      "y": {"datum": 0, "type": "quantitative", "scale": {"domain": [0, 129], "nice": false}, "axis": {"title": null, "labels": false, "ticks": false, "domainWidth": 2}},
      "y2": {"datum": 120}
     }},
    {"width": 1332, "height": 45, "data": {"name": "bar"}, "view": {"stroke": "#888888", "strokeWidth": 3},
     "mark": {"type": "rect"},
     "encoding": {
      "x": {"field": "r0", "type": "quantitative", "scale": {"domain": [0, 19100], "nice": false, "zero": false}, "axis": null},
      "x2": {"field": "r1"},
      "color": {"field": "s2n", "type": "quantitative", "scale": {"domain": [-1.43, 0, 1.43], "range": ["#0565c0", "#ffffff", "#ff0000"], "interpolate": "rgb"},
                "legend": {"orient": "none", "legendX": 1413, "legendY": -46, "title": "Signal2Noise", "direction": "vertical", "gradientLength": 251, "gradientThickness": 32, "values": [-1, -0.5, 0, 0.5, 1], "labelExpr": "replace(format(datum.value, '.1f'), '\u2212', '-')", "labelFontSize": 27, "titleFontSize": 27, "labelOffset": 20, "titlePadding": 18, "gradientStrokeWidth": 0}}
     }},
    {"width": 1332, "height": 300, "data": {"name": "zc"},
     "layer": [
      {"data": {"name": "metric"}, "mark": {"type": "area", "color": "#c0c0c0"},
       "encoding": {
        "x": {"field": "rank", "type": "quantitative", "scale": {"domain": [0, 19100], "nice": false, "zero": false},
              "axis": {"title": "Rank in Ordered Dataset", "titleFontSize": 36, "titlePadding": 30, "values": [0, 2500, 5000, 7500, 10000, 12500, 15000, 17500], "labelExpr": "datum.value >= 10000 ? format(datum.value, ',') : format(datum.value, 'd')", "labelFontSize": 22, "tickSize": 11, "tickWidth": 2, "domainWidth": 3, "domainColor": "#333333", "labelPadding": 6}},
        "y": {"field": "metric", "type": "quantitative", "scale": {"domain": [-1.74, 2.41], "nice": false},
              "axis": {"title": "Ranked list metric", "titleFontSize": 27, "titleX": -91, "titleBaseline": "middle", "values": [0, 2], "format": "d", "labelFontSize": 24, "ticks": false, "labelPadding": 28, "domainWidth": 2}},
        "y2": {"datum": 0}
       }},
      {"mark": {"type": "rule", "color": "#666666", "strokeWidth": 3}, "encoding": {"x": {"datum": 0}, "x2": {"datum": 19100}, "y": {"datum": 0}}},
      {"mark": {"type": "rule", "color": "#000000", "strokeWidth": 2.5, "strokeDash": [14, 8]}, "encoding": {"x": {"field": "rank", "type": "quantitative"}}},
      {"mark": {"type": "text", "fontSize": 27, "dx": -13, "align": "center", "baseline": "middle"}, "encoding": {"x": {"field": "rank", "type": "quantitative"}, "y": {"datum": -0.42}, "text": {"field": "label"}}},
      {"mark": {"type": "rule", "color": "#333333", "strokeWidth": 3}, "encoding": {"x": {"datum": 19100}, "x2": {"datum": 19580}, "y": {"datum": -1.74}}},
      {"mark": {"type": "rule", "color": "#333333", "strokeWidth": 2}, "encoding": {"x": {"datum": 19580}, "y": {"datum": -1.74}, "y2": {"datum": -1.895}}},
      {"data": {"name": "series"}, "mark": {"type": "point", "shape": "square", "filled": true, "clip": true}, "encoding": {"x": {"datum": -50000}, "y": {"datum": 0}, "fill": {"field": "series", "type": "nominal", "scale": {"domain": ["Enrichment Profile", "Hits", "Ranking metric scores"], "range": ["#00ff00", "#111111", "#c0c0c0"]}, "legend": {"orient": "none", "legendX": 1413, "legendY": 287, "title": null, "symbolType": "square", "symbolSize": 900, "symbolStrokeWidth": 0, "symbolOpacity": 1, "labelFontSize": 31, "labelOffset": 11, "labelBaseline": "alphabetic", "rowPadding": 3, "labelLimit": 0}}}}
     ]}
   ]}
 ]}
],
"config": {
 "font": "Liberation Sans",
 "view": {"stroke": null},
 "axis": {"labelFont": "Liberation Sans", "titleFont": "Liberation Sans", "labelColor": "#000000", "titleColor": "#000000", "titleFontWeight": "normal", "grid": false, "domainColor": "#000000", "tickColor": "#000000"},
 "legend": {"labelFont": "Liberation Sans", "titleFont": "Liberation Sans", "titleFontWeight": "normal", "labelColor": "#000000", "titleColor": "#000000"},
 "title": {"font": "Liberation Sans", "fontWeight": "normal", "color": "#000000"},
 "text": {"font": "Liberation Sans", "color": "#000000"}
}
}
